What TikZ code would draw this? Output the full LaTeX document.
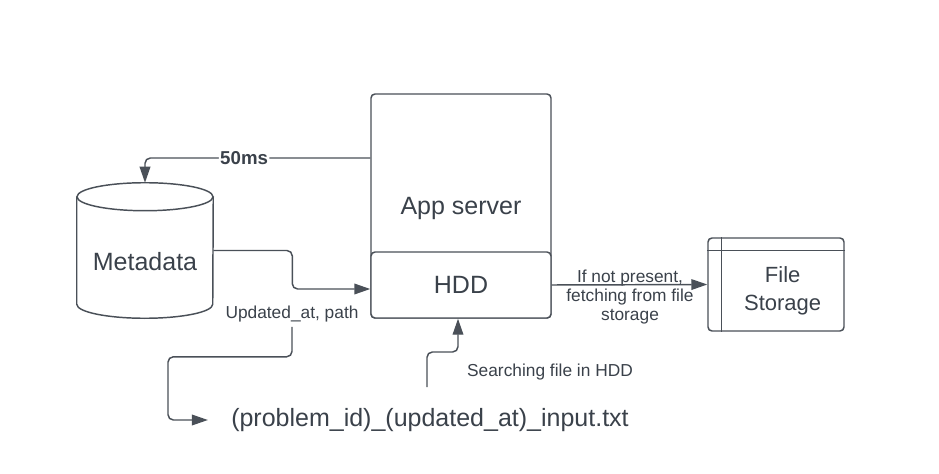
\documentclass[tikz,border=0pt]{standalone}
\usepackage{fontspec}
\setmainfont{Liberation Sans}
\usetikzlibrary{arrows.meta}
\definecolor{ink}{HTML}{3A414A}
\definecolor{wire}{HTML}{4A5058}
\tikzset{
  box/.style={draw=wire, line width=1.1pt, rounded corners=3pt, fill=white},
  big/.style={text=ink, font=\fontsize{18.75}{22}\selectfont},
  small/.style={text=ink, font=\fontsize{13}{14.6}\selectfont, align=center},
  flow/.style={draw=wire, line width=1.1pt, rounded corners=4pt,
    -{Triangle[length=12pt,width=8pt]}},
  wireline/.style={draw=wire, line width=1.1pt}
}
\begin{document}
\begin{tikzpicture}[x=0.75pt,y=-0.75pt]
\useasboundingbox (0,0) rectangle (939,474);
%
\node[box, big, minimum width=135pt, minimum height=168pt, text depth=0pt] (app) at (461,206) {App server};
\node[box, big, minimum width=135pt, minimum height=49.5pt] (hdd) at (461,285) {HDD};
%
\node[minimum width=102pt, minimum height=101.25pt, inner sep=0pt,
  label={[big, yshift=-8pt]center:Metadata}] (meta) at (145,250.5) {};
\draw[wireline] ([yshift=-10.5pt]meta.north) ellipse [x radius=51pt, y radius=10.5pt];
\draw[wireline] ([yshift=-10.5pt]meta.north west) -- ([yshift=10.5pt]meta.south west)
  arc[start angle=180, end angle=360, x radius=51pt, y radius=10.5pt]
  -- ([yshift=-10.5pt]meta.north east);
%
\node[box, minimum width=102pt, minimum height=69.75pt,
  label={[big, align=center, font=\fontsize{16.5}{21}\selectfont, xshift=5pt, yshift=-5pt]center:File\\Storage}] (store) at (776,284.5) {};
\draw[wireline] ([xshift=10.5pt]store.north west) -- ([xshift=10.5pt]store.south west);
\draw[wireline] ([yshift=-9.75pt]store.north west) -- ([yshift=-9.75pt]store.north east);
%
\draw[flow] ([yshift=36pt]app.west) -| node[pos=.28, fill=white, inner sep=1pt, text=ink,
  font=\fontsize{14}{16}\selectfont\bfseries] {50ms} (meta.north);
%
\draw[flow] (meta.east) -- ++(79,0) |- ([yshift=-3pt]hdd.west);
%
\node[small] (upd) at (292,314) {Updated\_at, path};
\node[big] (fname) at (430,420) {(problem\_id)\_(updated\_at)\_input.txt};
\draw[flow] (upd.south) -- ++(0,30) -- ++(-124,0) |- ([xshift=-14pt]fname.west);
%
\coordinate (probe) at (427,387);
\node[small] (search) at (550,372) {Searching file in HDD};
\draw[flow] (probe) -- ++(0,-35) -| ([xshift=-2.25pt]hdd.south);
%
\node[small] (fetch) at (630,297) {If not present,\\fetching from file\\storage};
\draw[flow] (hdd.east) -- (store.west);
\end{tikzpicture}
\end{document}
